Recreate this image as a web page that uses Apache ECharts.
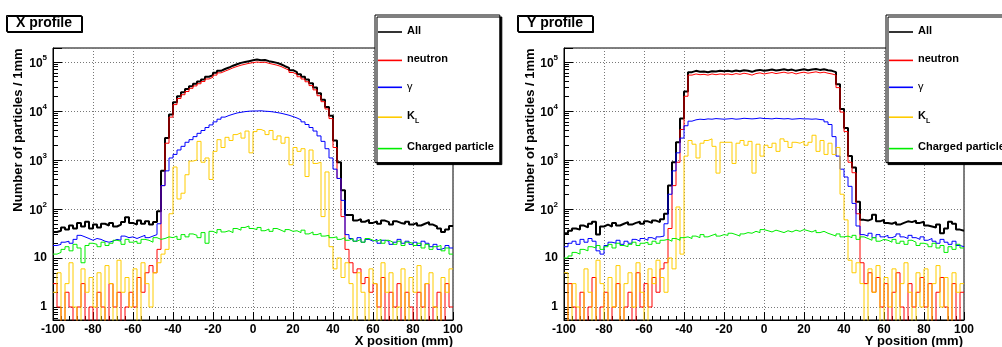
<!DOCTYPE html>
<html><head><meta charset="utf-8">
<script src="https://cdn.jsdelivr.net/npm/echarts@6/dist/echarts.min.js"></script>
<style>html,body{margin:0;padding:0;background:#fff}#c{width:1002px;height:347px}</style>
</head><body><div id="c"></div>
<script>
// ---------- data ----------
const seriesNames = ['All', 'neutron', 'γ', 'K_L', 'Charged particle'];
const xTickLabels = [-100, -80, -60, -40, -20, 0, 20, 40, 60, 80, 100];
const binLow = -100, binWidth = 2, nBins = 100;

// X profile (counts per bin, 2 mm bins from -100 to 100)
const xAll = [
34,36,42,38,46,40,52,44,55,40,
48,42,50,46,52,44,48,54,68,52,
48,58,50,56,48,54,90,600,2800,8500,
15000,20000,24000,28000,32000,36000,40000,44000,50000,54000,
60000,66000,72000,77000,84000,90000,96000,100000,104000,108000,
112000,108000,110000,104000,100000,96000,90000,82000,76000,68000,
62000,56000,50000,44000,37000,30000,23000,17000,12000,8000,
2500,900,240,75,75,58,62,55,60,52,
56,50,58,54,48,56,52,50,55,48,
52,46,50,54,48,44,40,34,38,45];
const xNeutron = [
3,1,0,2,1,0,1,3,0,1,
0,2,1,0,3,1,2,0,1,2,
1,4,2,5,7,5,15,300,2200,7500,
13500,18000,21500,25000,29000,32500,36000,40000,45000,49000,
54000,60000,65000,70000,76000,81000,86000,90000,94000,97000,
100000,98000,99000,94000,90000,86000,81000,74000,68000,61000,
56000,50000,45000,39500,33000,27000,20500,15500,11000,7000,
1800,420,70,15,8,5,6,3,4,2,
3,1,4,0,2,1,3,0,2,1,
0,2,1,3,0,1,2,0,3,1];
const xGamma = [
18,19,21,22,20,24,29,27,25,23,
25,24,22,21,22,24,23,28,26,27,
25,27,29,26,28,30,50,300,600,1100,
1300,1600,1900,2300,2600,3000,3500,4000,4600,5200,
6000,6800,7500,8100,8600,9100,9400,9700,9900,10000,
10000,10100,9900,9800,9600,9300,9000,8600,8200,7700,
7200,6600,6000,5300,4600,3900,3100,2400,1700,1100,
650,420,150,30,25,22,26,21,24,22,
24,20,23,22,19,21,24,20,22,19,
21,18,22,20,17,19,15,16,18,16];
const xKL = [
2,5,0,3,8,1,0,6,2,4,
1,5,0,7,3,0,9,2,4,1,
6,0,8,3,1,5,8,12,15,80,
720,160,210,500,950,1000,2400,900,1100,400,
1500,2600,1800,2900,2500,3300,3600,2800,3900,1400,
3800,4200,3900,3300,4000,2600,3100,2200,2900,800,
1800,1500,1700,460,1600,850,900,70,570,17,
6,10,4,8,3,0,5,2,0,6,
3,0,8,2,5,0,1,6,0,4,
2,7,0,3,5,1,0,4,2,6];
const xCharged = [
12,13,15,17,14,19,16,8,18,20,
19,17,21,18,20,23,22,19,24,21,
22,20,24,23,21,26,24,25,27,26,
28,24,30,27,31,29,26,33,20,35,
32,38,34,36,33,40,37,42,45,40,
38,42,36,39,35,40,37,34,38,35,
36,33,37,31,34,30,32,28,29,26,
27,24,26,23,25,22,24,21,25,23,
22,24,20,23,21,19,22,18,21,20,
18,20,16,19,15,17,18,14,16,12];

// Y profile
const yAll = [
32,36,40,38,46,42,50,55,30,44,
48,44,52,46,50,54,48,52,55,50,
56,52,58,54,62,80,300,900,2300,7000,
25000,62000,66000,63000,64000,62000,65000,64000,66000,65000,
66000,64000,67000,65000,68000,66000,63000,67000,69000,66000,
68000,70000,67000,69000,71000,68000,70000,66000,69000,71000,
68000,70000,72000,69000,71000,68000,66000,62000,35000,11000,
4500,1200,700,140,60,58,62,76,56,60,
52,50,54,48,52,56,54,58,52,55,
46,44,42,48,32,40,55,50,38,36];
const yNeutron = [
0,3,1,0,2,0,1,4,0,1,
2,0,1,3,0,1,2,0,5,1,
3,1,4,2,6,8,40,300,900,4200,
20000,54000,57000,55000,56000,54000,57000,55000,57000,56000,
57000,55000,58000,56000,59000,57000,54000,58000,60000,57000,
59000,61000,58000,60000,62000,59000,61000,57000,60000,62000,
59000,61000,63000,60000,62000,59000,57000,54000,30000,9500,
3800,900,550,80,8,3,5,2,4,1,
3,0,2,5,1,0,3,1,2,4,
1,3,0,2,4,1,0,3,0,2];
const yGamma = [
17,20,22,19,24,21,25,22,14,12,
18,21,20,23,19,22,20,24,22,25,
23,26,24,27,28,50,200,600,1400,2800,
5000,6200,6600,6800,6700,6900,6800,7000,6900,6800,
6900,7000,6800,6900,7100,7000,6900,7000,7200,7000,
7000,6900,7100,7000,6900,7000,6800,6900,7000,6900,
6900,6800,6900,6700,6600,6000,5300,3000,1200,650,
450,290,130,45,30,28,32,26,30,27,
29,26,28,31,27,25,29,26,24,27,
23,25,22,20,24,21,19,22,18,17];
const yKL = [
5,0,3,1,0,6,2,0,9,3,
0,4,1,7,0,3,5,1,8,2,
0,6,3,9,4,2,10,6,110,12,
1200,2500,2100,1100,2200,2500,2700,1900,540,2300,
2300,2300,850,2200,2500,2000,2400,540,2100,1200,
2000,1800,2200,1500,2700,2400,1800,2300,2200,2400,
2000,2300,3200,1500,2500,1300,2200,1300,1800,200,
60,9,5,8,3,0,6,2,7,0,
4,1,6,0,3,8,2,0,5,1,
6,0,3,7,1,4,0,5,2,3];
const yCharged = [
10,11,13,12,15,14,17,16,18,15,
17,19,16,20,18,17,19,21,18,20,
21,19,22,20,23,24,22,25,23,26,
27,25,28,26,30,27,29,31,28,30,
29,32,30,28,31,33,32,35,33,38,
36,34,37,35,33,36,34,37,35,38,
36,34,37,33,35,32,30,28,31,27,
28,26,29,24,27,25,23,26,22,24,
23,21,24,20,22,19,23,21,18,20,
19,17,20,16,18,13,17,15,19,16];

// ---------- chart ----------
const FONT = '"Liberation Sans", Arial, Helvetica, sans-serif';
const Y_MIN = 0.543, Y_MAX = 193000, FLOOR = 0.2;
const colors = ['#000000', '#ff0000', '#0000ff', '#ffcc00', '#00ee00'];
const widths = [2, 1, 1, 1, 1];

const binEdges = [];
for (let i = 0; i <= nBins; i++) binEdges.push(binLow + i * binWidth);

function hist(vals) {
  const d = vals.map((v, i) => [binEdges[i], Math.max(v, FLOOR)]);
  d.push([binEdges[nBins], Math.max(vals[nBins - 1], FLOOR)]);
  return d;
}

const minorTicks = [];
for (let e = -1; e <= 5; e++) for (let k = 2; k <= 9; k++) {
  const v = k * Math.pow(10, e);
  if (v > Y_MIN && v < Y_MAX) minorTicks.push(v);
}

function yFmt(v) {
  const l = Math.log10(v);
  const n = Math.round(l);
  if (Math.abs(l - n) > 1e-6) return '';
  if (n === 0) return '1';
  if (n === 1) return '10';
  return '{b|10}{s|' + n + '}';
}

const grids = [
  {left: 53, top: 48, width: 400, height: 272},
  {left: 564, top: 48, width: 400, height: 272}
];

const xAxes = [], yAxes = [], series = [];
grids.forEach((g, gi) => {
  xAxes.push({
    type: 'value', gridIndex: gi, min: xTickLabels[0], max: xTickLabels[xTickLabels.length - 1], interval: 20,
    axisLine: {show: true, onZero: false, lineStyle: {color: '#000', width: 1}},
    axisTick: {show: true, inside: true, length: 8, lineStyle: {color: '#000'}},
    minorTick: {show: true, splitNumber: 5, length: 4, lineStyle: {color: '#000'}},
    axisLabel: {color: '#000', fontFamily: FONT, fontWeight: 'bold', fontSize: 12, margin: 4},
    splitLine: {show: true, lineStyle: {color: '#777', type: [1, 2], width: 1}}
  });
  yAxes.push({
    type: 'log', logBase: 10, gridIndex: gi, min: Y_MIN, max: Y_MAX, position: 'left',
    axisLine: {show: true, onZero: false, lineStyle: {color: '#000', width: 1}},
    axisTick: {show: true, inside: true, length: 9, lineStyle: {color: '#000'}},
    axisLabel: {
      color: '#000', fontFamily: FONT, fontWeight: 'bold', fontSize: 12, margin: 6,
      formatter: yFmt,
      rich: {
        b: {fontFamily: FONT, fontWeight: 'bold', fontSize: 12, color: '#000', lineHeight: 16, verticalAlign: 'bottom'},
        s: {fontFamily: FONT, fontWeight: 'bold', fontSize: 8, color: '#000', lineHeight: 16, verticalAlign: 'top'}
      }
    },
    splitLine: {show: true, lineStyle: {color: '#777', type: [1, 2], width: 1}}
  });
  yAxes.push({
    type: 'log', logBase: 10, gridIndex: gi, min: Y_MIN, max: Y_MAX, position: 'left', offset: 0,
    axisLine: {show: false, onZero: false},
    axisLabel: {show: false},
    splitLine: {show: false},
    axisTick: {show: true, inside: true, length: 5, customValues: minorTicks, lineStyle: {color: '#000'}}
  });
});

const panels = [
  [xAll, xNeutron, xGamma, xKL, xCharged],
  [yAll, yNeutron, yGamma, yKL, yCharged]
];
panels.forEach((arrs, gi) => {
  arrs.forEach((vals, si) => {
    series.push({
      name: seriesNames[si], type: 'line', step: 'end',
      xAxisIndex: gi, yAxisIndex: gi * 2,
      data: hist(vals), symbol: 'none', showSymbol: false, clip: true,
      lineStyle: {color: colors[si], width: widths[si]},
      itemStyle: {color: colors[si]},
      animation: false, z: 2
    });
  });
});

function legendCfg(left) {
  return {
    orient: 'vertical', left: left, top: 15,
    data: seriesNames.map((n, i) => ({name: n, icon: 'rect', itemStyle: {color: colors[i]}})),
    itemWidth: 24, itemHeight: 1.6, itemGap: 17.4,
    padding: [10, 6, 10, 3],
    backgroundColor: '#fff', borderColor: '#000', borderWidth: 1,
    shadowColor: '#000', shadowOffsetX: 2, shadowOffsetY: 2, shadowBlur: 0,
    selectedMode: false,
    formatter: function (n) {
      if (n === 'K_L') return '{t|K}{sub|L}';
      if (n === 'γ') return '{g|γ}';
      return '{t|' + n + '}';
    },
    textStyle: {
      color: '#000', fontFamily: FONT, fontSize: 11, fontWeight: 'bold',
      rich: {
        t: {fontFamily: FONT, fontSize: 11, fontWeight: 'bold', color: '#000', lineHeight: 14, verticalAlign: 'top'},
        sub: {fontFamily: FONT, fontSize: 7, fontWeight: 'bold', color: '#000', lineHeight: 14, verticalAlign: 'bottom'},
        g: {fontFamily: FONT, fontSize: 11, fontWeight: 'normal', color: '#000', lineHeight: 14}
      }
    }
  };
}

function titleCfg(text, left) {
  return {
    text: text, left: left, top: 15,
    padding: [1, 10, 1, 10],
    backgroundColor: '#fff', borderColor: '#000', borderWidth: 1,
    shadowColor: '#000', shadowOffsetX: 1, shadowOffsetY: 1, shadowBlur: 0,
    textStyle: {fontFamily: FONT, fontWeight: 'bold', fontSize: 14, color: '#000', lineHeight: 15}
  };
}

function txt(text, x, y, align, rot) {
  return {
    type: 'text', x: x, y: y, rotation: rot || 0, z: 100,
    style: {text: text, fontFamily: FONT, fontWeight: 'bold', fontSize: 13, fill: '#000',
            textAlign: align, textVerticalAlign: 'middle'}
  };
}

const chart = echarts.init(document.getElementById('c'), null, {renderer: 'canvas'});
chart.setOption({
  animation: false,
  backgroundColor: '#fff',
  title: [titleCfg('X profile', 6), titleCfg('Y profile', 517)],
  legend: [legendCfg(375), legendCfg(886)],
  grid: grids.map(g => Object.assign({show: true, borderColor: '#000', borderWidth: 1, backgroundColor: 'transparent'}, g)),
  xAxis: xAxes,
  yAxis: yAxes,
  series: series,
  graphic: [
    txt('Number of particles / 1mm', 18, 130, 'center', Math.PI / 2),
    txt('Number of particles / 1mm', 530, 130, 'center', Math.PI / 2),
    txt('X position (mm)', 453, 341, 'right'),
    txt('Y position (mm)', 963, 341, 'right')
  ]
});
</script>
</body></html>
